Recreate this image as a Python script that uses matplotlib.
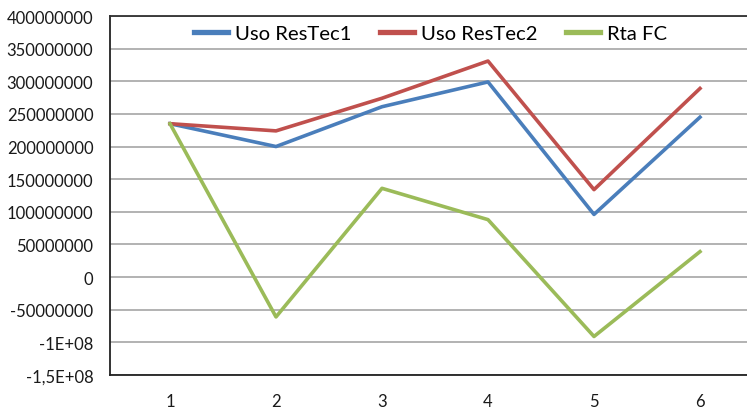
import matplotlib.pyplot as plt

categories = [1, 2, 3, 4, 5, 6]
uso_restec1 = [235e6, 200e6, 261e6, 299e6, 96e6, 245e6]
uso_restec2 = [235e6, 224e6, 274e6, 331e6, 134e6, 289e6]
rta_fc = [235e6, -61e6, 136e6, 88e6, -91e6, 39e6]

ytick_values = [-150e6, -100e6, -50e6, 0, 50e6, 100e6, 150e6, 200e6, 250e6, 300e6, 350e6, 400e6]
ytick_labels = ['-1,5E+08', '-1E+08', '-50000000', '0', '50000000', '100000000', '150000000',
                '200000000', '250000000', '300000000', '350000000', '400000000']

plt.rcParams['font.family'] = ['Lato', 'DejaVu Sans']

fig = plt.figure(figsize = (7.47, 4.10), dpi = 100)
ax = fig.add_axes([110 / 747, 1 - 376 / 410, 1 - 110 / 747, (376 - 17) / 410])

ax.plot(categories, uso_restec1, color = '#4a7ebb', lw = 2.6, label = 'Uso ResTec1')
ax.plot(categories, uso_restec2, color = '#c0504d', lw = 2.6, label = 'Uso ResTec2')
ax.plot(categories, rta_fc, color = '#9bbb59', lw = 2.6, label = 'Rta FC')

ax.set_ylim(-150e6, 400e6)
ax.set_xlim(1 - 60 / 106, 6 + 47 / 106)
ax.set_yticks(ytick_values)
ax.set_yticklabels(ytick_labels)
ax.set_xticks(categories)
ax.set_xticklabels([str(c) for c in categories])
ax.tick_params(axis = 'y', length = 0, pad = 12, labelsize = 12, colors = '#1a1a1a')
ax.tick_params(axis = 'x', length = 0, pad = 13, labelsize = 12, colors = '#1a1a1a')

ax.grid(axis = 'y', color = '#a6a6a6', lw = 1.2)
ax.set_axisbelow(True)
ax.spines['right'].set_visible(False)
ax.spines['left'].set_color('#222222')
ax.spines['bottom'].set_color('#222222')
ax.spines['top'].set_color('#303030')
for s in ['left', 'bottom', 'top']:
    ax.spines[s].set_linewidth(1.3)

ax.legend(loc = 'upper center', bbox_to_anchor = (0.503, 1.025), ncol = 3, frameon = False,
          fontsize = 14.6, handlelength = 1.67, handletextpad = 0.33, columnspacing = 1.43)
for line in ax.get_legend().get_lines():
    line.set_linewidth(3.8)

fig.savefig('out.png', dpi = 100)
